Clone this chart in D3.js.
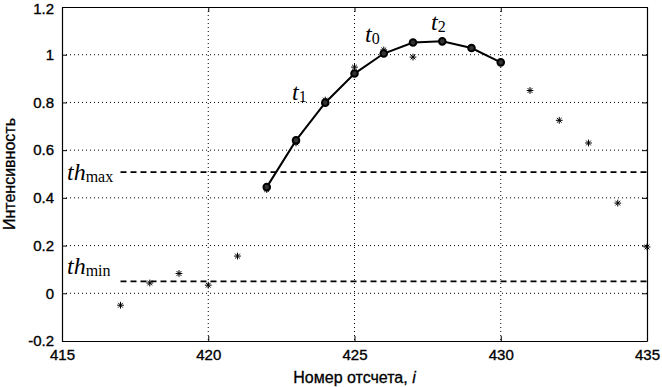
<!DOCTYPE html>
<html lang="ru">
<head>
<meta charset="UTF-8">
<script src="https://cdnjs.cloudflare.com/ajax/libs/d3/7.8.5/d3.min.js"></script>
<style>
  body { margin: 0; background: #fff; }
  svg text { font-family: Arial, "Liberation Sans", sans-serif; }
  .lbl { font-family: "Liberation Serif", "Times New Roman", serif; }
</style>
</head>
<body>
<svg id="chart" width="662" height="387"></svg>
<script>
// samples (asterisks)
const sampleX = [417, 418, 419, 420, 421, 422, 423, 424, 425, 426, 427, 428, 429, 430, 431, 432, 433, 434, 435];
const sampleY = [-0.05, 0.043, 0.083, 0.034, 0.156, 0.435, 0.63, 0.81, 0.948, 1.02, 0.99, 1.055, 1.028, 0.968, 0.85, 0.725, 0.63, 0.378, 0.194];

// fitted curve (line with circles)
const fitX = [422, 423, 424, 425, 426, 427, 428, 429, 430];
const fitY = [0.445, 0.641, 0.799, 0.921, 1.005, 1.051, 1.056, 1.028, 0.968];

// thresholds
const thMax = 0.508;
const thMin = 0.05;
const thRange = [417, 435];

const xTicks = [415, 420, 425, 430, 435];
const yTicks = [-0.2, 0, 0.2, 0.4, 0.6, 0.8, 1, 1.2];

const margin = {left: 62, top: 7, right: 15, bottom: 46};
const svg = d3.select('#chart');
const W = +svg.attr('width'), H = +svg.attr('height');
const w = W - margin.left - margin.right, h = H - margin.top - margin.bottom;

const x = d3.scaleLinear().domain([415, 435]).range([0, w]);
const y = d3.scaleLinear().domain([-0.2, 1.2]).range([h, 0]);

const g = svg.append('g').attr('transform', `translate(${margin.left},${margin.top})`);

// grid
g.selectAll('.vg').data(xTicks.slice(1, -1)).enter().append('line')
  .attr('x1', d => x(d)).attr('x2', d => x(d)).attr('y1', 0).attr('y2', h)
  .attr('stroke', '#000').attr('stroke-width', 1).attr('stroke-dasharray', '1,3');
g.selectAll('.hg').data(yTicks.slice(1, -1)).enter().append('line')
  .attr('y1', d => y(d)).attr('y2', d => y(d)).attr('x1', 0).attr('x2', w)
  .attr('stroke', '#000').attr('stroke-width', 1).attr('stroke-dasharray', '1,3');

// axes
const fmt = d => String(d);
g.append('g').attr('transform', `translate(0,${h})`)
  .call(d3.axisBottom(x).tickValues(xTicks).tickSizeInner(-5).tickSizeOuter(0).tickPadding(8).tickFormat(fmt))
  .call(a => a.select('.domain').attr('stroke-width', 1.2));
g.append('g')
  .call(d3.axisTop(x).tickValues(xTicks).tickSizeInner(-5).tickSizeOuter(0).tickFormat(''))
  .call(a => a.select('.domain').attr('stroke-width', 1.2));
g.append('g')
  .call(d3.axisLeft(y).tickValues(yTicks).tickSizeInner(-5).tickSizeOuter(0).tickPadding(8).tickFormat(fmt))
  .call(a => a.select('.domain').attr('stroke-width', 1.2))
  .call(a => a.selectAll('.tick text').filter(d => d === 1.2).attr('dy', '0.42em'));
g.append('g').attr('transform', `translate(${w},0)`)
  .call(d3.axisRight(y).tickValues(yTicks).tickSizeInner(-5).tickSizeOuter(0).tickFormat(''))
  .call(a => a.select('.domain').attr('stroke-width', 1.2));
g.selectAll('.tick text').attr('font-size', 15).attr('fill', '#000')
  .attr('stroke', '#000').attr('stroke-width', 0.35)
  .attr('font-family', 'Arial, "Liberation Sans", sans-serif');

// threshold lines
[thMax, thMin].forEach(v => {
  g.append('line')
    .attr('x1', x(thRange[0])).attr('x2', x(thRange[1]))
    .attr('y1', y(v)).attr('y2', y(v))
    .attr('stroke', '#000').attr('stroke-width', 1.8).attr('stroke-dasharray', '6,4');
});

// fitted line
const pts = fitX.map((d, i) => [d, fitY[i]]);
g.append('path').datum(pts)
  .attr('d', d3.line().x(d => x(d[0])).y(d => y(d[1])))
  .attr('fill', 'none').attr('stroke', '#000').attr('stroke-width', 2);

// samples as asterisks
const star = 3.4;
const starPath = `M0,${-star}V${star}M${-star},0H${star}M${-star*0.7},${-star*0.7}L${star*0.7},${star*0.7}M${-star*0.7},${star*0.7}L${star*0.7},${-star*0.7}`;
g.selectAll('.star').data(sampleX.map((d, i) => [d, sampleY[i]])).enter().append('path')
  .attr('transform', d => `translate(${x(d[0])},${y(d[1])})`)
  .attr('d', starPath).attr('stroke', '#000').attr('stroke-width', 1).attr('fill', 'none');

// circles on fitted line
g.selectAll('.mk').data(pts).enter().append('circle')
  .attr('cx', d => x(d[0])).attr('cy', d => y(d[1])).attr('r', 3.3)
  .attr('fill', '#333').attr('stroke', '#000').attr('stroke-width', 2);

// labels
function label(px, py, main, sub) {
  const t = svg.append('text').attr('class', 'lbl').attr('x', px).attr('y', py).attr('fill', '#000');
  t.append('tspan').attr('font-style', 'italic').attr('font-size', 24).text(main);
  t.append('tspan').attr('font-size', 16).attr('dy', 2).text(sub);
}
label(67, 180, 'th', 'max');
label(67, 274, 'th', 'min');
label(292, 100, 't', '1');
label(365, 42, 't', '0');
label(431, 30, 't', '2');

// axis titles
svg.append('text').attr('x', margin.left + w / 2).attr('y', 383).attr('text-anchor', 'middle')
  .attr('font-size', 16).attr('fill', '#000').attr('stroke', '#000').attr('stroke-width', 0.3)
  .html('Номер отсчета, <tspan font-style="italic">i</tspan>');
svg.append('text')
  .attr('transform', `translate(15,${margin.top + h / 2}) rotate(-90)`)
  .attr('text-anchor', 'middle').attr('font-size', 16).attr('fill', '#000')
  .attr('stroke', '#000').attr('stroke-width', 0.3)
  .text('Интенсивность');
</script>
</body>
</html>
